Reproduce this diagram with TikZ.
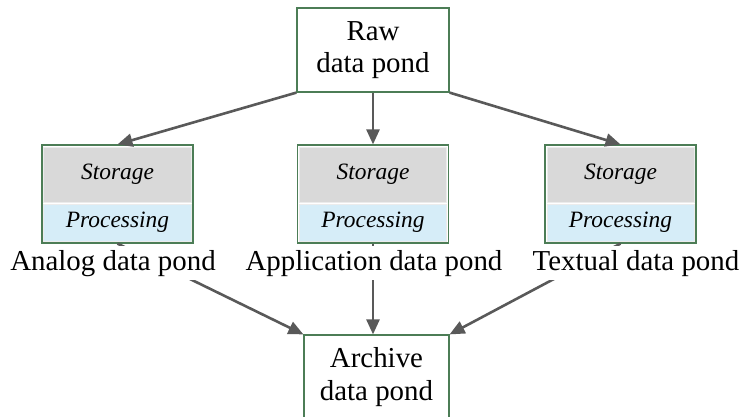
\documentclass[tikz,border=0pt]{standalone}
\usepackage{fontspec}
\setmainfont{Liberation Serif}
\usetikzlibrary{positioning}
\usetikzlibrary{fit}
\usetikzlibrary{arrows.meta}

\definecolor{frameGreen}{RGB}{76,125,86}
\definecolor{flowGray}{RGB}{89,89,89}
\definecolor{storeGray}{RGB}{217,217,217}
\definecolor{procBlue}{RGB}{214,237,248}
\definecolor{cellLine}{RGB}{236,236,236}

\tikzset{
  pond/.style={rectangle, draw=frameGreen, line width=1.2bp, fill=white, align=center,
    inner sep=0pt, font=\fontsize{29}{32.5}\selectfont},
  cell/.style={rectangle, draw=cellLine, line width=1bp, minimum width=147bp, inner sep=0pt,
    font=\fontsize{23.5}{26}\selectfont\itshape},
  flow/.style={draw=flowGray, line width=2.6bp, -{Triangle[length=15bp,width=13bp]}},
  pondname/.style={fill=white, inner sep=4bp, anchor=base, font=\fontsize{29}{32}\selectfont}
}

\begin{document}
\begin{tikzpicture}[x=1bp, y=-1bp]
  \useasboundingbox (0,0) rectangle (745,416);
  \node[pond, minimum width=152bp, minimum height=84bp] (raw) at (373,50) {Raw\\data pond};
  \node[pond, minimum width=145bp, minimum height=84bp] (archive) at (376.5,377) {Archive\\data pond};
  % the three ponds: storage on top of processing
  \foreach \name/\cx in {analog/117.5, application/373, textual/620.5}{
    \node[cell, fill=storeGray, minimum height=55bp] (\name-st) at (\cx,174.5) {Storage};
    \node[cell, fill=procBlue, minimum height=37bp, below=1bp of \name-st] (\name-pr) {Processing};
    \node[rectangle, draw=frameGreen, line width=1.2bp, inner sep=1.5bp,
      fit=(\name-st)(\name-pr)] (\name) {};
  }
  \draw[flow] (raw.south west) -- (analog.north);
  \draw[flow] (raw.south) -- (raw.south |- application.north);
  \draw[flow] (raw.south east) -- (textual.north);
  \draw[flow] (analog.south) -- (archive.north west);
  \draw[flow] (application.south) -- (application.south |- archive.north);
  \draw[flow] (textual.south) -- (archive.north east);
  % names go over the lower arrows
  \foreach \name/\lx/\txt in {analog/113/Analog, application/374/Application, textual/636/Textual}{
    \node[pondname] (\name-name) at (\lx,270) {\txt{} data pond};
  }
\end{tikzpicture}
\end{document}
